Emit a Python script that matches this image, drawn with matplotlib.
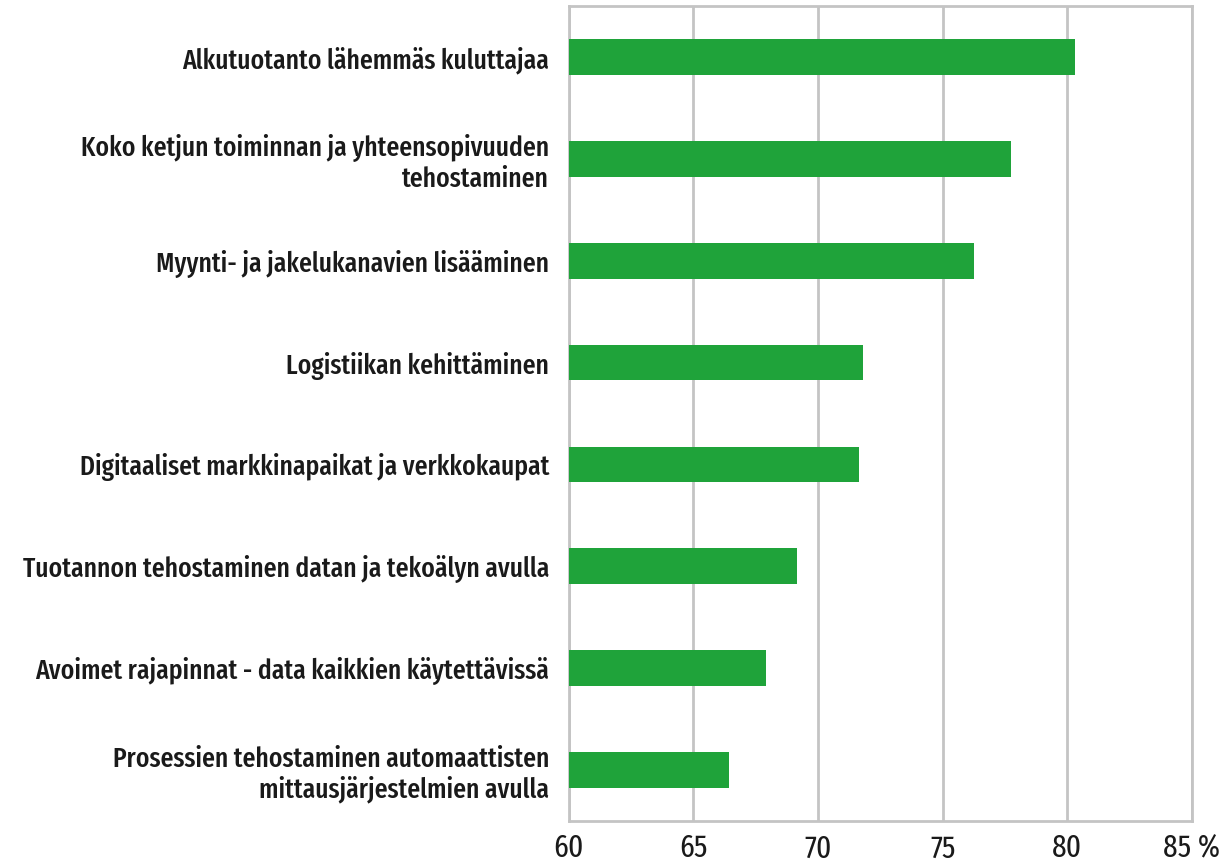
import matplotlib
matplotlib.use("Agg")
import matplotlib.pyplot as plt

categories = [
    "Alkutuotanto lähemmäs kuluttajaa",
    "Koko ketjun toiminnan ja yhteensopivuuden\ntehostaminen",
    "Myynti- ja jakelukanavien lisääminen",
    "Logistiikan kehittäminen",
    "Digitaaliset markkinapaikat ja verkkokaupat",
    "Tuotannon tehostaminen datan ja tekoälyn avulla",
    "Avoimet rajapinnat - data kaikkien käytettävissä",
    "Prosessien tehostaminen automaattisten\nmittausjärjestelmien avulla",
]
values = [80.3, 77.75, 76.25, 71.8, 71.65, 69.15, 67.9, 66.45]
xticks = [60, 65, 70, 75, 80, 85]
xticklabels = ["60", "65", "70", "75", "80", "85 %"]

plt.rcParams["font.family"] = ["Fira Sans Extra Condensed", "Roboto Condensed", "DejaVu Sans"]
plt.rcParams["font.weight"] = 500

fig = plt.figure(figsize=(12.3, 8.66), dpi=100)
ax = fig.add_axes([0.4622, 0.052, 0.5069, 0.941])

y = list(range(len(categories)))
ax.barh(y, [v - 60 for v in values], left=60, height=0.35, color="#1fa33a", zorder=3)

ax.set_xlim(60, 85)
ax.set_ylim(len(categories) - 0.5, -0.5)
ax.set_yticks(y)
ax.set_yticklabels(categories, fontsize=20, color="#1a1a1a", ha="right",
                   multialignment="right", linespacing=1.15)
ax.set_xticks(xticks)
ax.set_xticklabels(xticklabels, fontsize=23, color="#1a1a1a", fontweight=400)
ax.tick_params(axis="y", length=0, pad=14)
ax.tick_params(axis="x", length=0, pad=9)

ax.grid(axis="x", color="#c4c4c4", linewidth=2, zorder=0)
for s in ax.spines.values():
    s.set_color("#c4c4c4")
    s.set_linewidth(2)

fig.savefig("out.png", dpi=100, facecolor="white")
